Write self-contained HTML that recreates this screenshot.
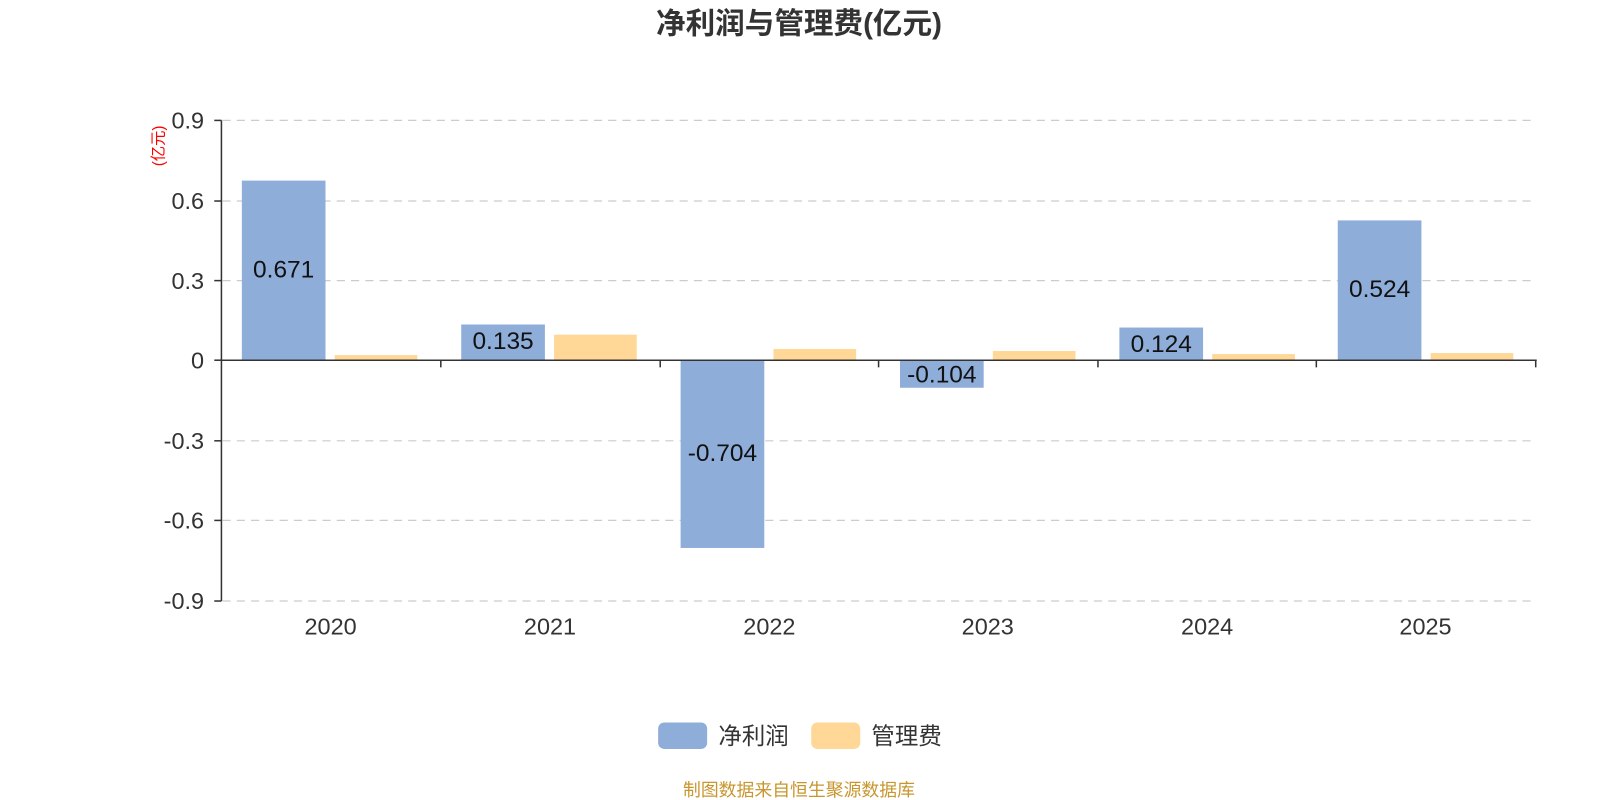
<!DOCTYPE html>
<html><head><meta charset="utf-8"><style>body{margin:0;background:#fff}svg{display:block}text{font-family:"Liberation Sans","Noto Sans CJK SC",sans-serif}</style></head><body>
<svg width="1600" height="800" viewBox="0 0 1568 784" xmlns="http://www.w3.org/2000/svg">
<text x="783" y="33" font-size="29" font-weight="bold" fill="#333" text-anchor="middle">净利润与管理费(亿元)</text>
<g stroke="#ccc" stroke-dasharray="8,6" stroke-width="1.2">
<line x1="218" y1="118" x2="1505" y2="118"/><line x1="218" y1="197" x2="1505" y2="197"/><line x1="218" y1="275" x2="1505" y2="275"/><line x1="218" y1="432" x2="1505" y2="432"/><line x1="218" y1="510" x2="1505" y2="510"/><line x1="218" y1="589" x2="1505" y2="589"/>
</g>
<g font-size="23" fill="#333" text-anchor="end">
<text x="200" y="126">0.9</text><text x="200" y="205">0.6</text><text x="200" y="283">0.3</text><text x="200" y="361">0</text><text x="200" y="440">-0.3</text><text x="200" y="518">-0.6</text><text x="200" y="597">-0.9</text>
</g>
<text transform="translate(160,143) rotate(-90)" font-size="15" fill="red" text-anchor="middle">(亿元)</text>
<g fill="#8eadd9">
<rect x="237" y="177" width="82" height="176"/><rect x="452" y="318" width="82" height="35"/><rect x="667" y="353" width="82" height="184"/><rect x="882" y="353" width="82" height="27"/><rect x="1097" y="321" width="82" height="32"/><rect x="1311" y="216" width="82" height="137"/>
</g>
<g fill="#ffd797">
<rect x="328" y="348" width="81" height="5"/><rect x="543" y="328" width="81" height="25"/><rect x="758" y="342" width="81" height="11"/><rect x="973" y="344" width="81" height="9"/><rect x="1188" y="347" width="81" height="6"/><rect x="1402" y="346" width="81" height="7"/>
</g>
<g font-size="24" fill="#111" text-anchor="middle">
<text x="278" y="272">0.671</text><text x="493" y="342">0.135</text><text x="708" y="452">-0.704</text><text x="923" y="375">-0.104</text><text x="1138" y="345">0.124</text><text x="1352" y="291">0.524</text>
</g>
<g stroke="#333" stroke-width="1.5">
<line x1="217" y1="118" x2="217" y2="589"/>
<line x1="210" y1="118" x2="217" y2="118"/><line x1="210" y1="197" x2="217" y2="197"/><line x1="210" y1="275" x2="217" y2="275"/><line x1="210" y1="353" x2="217" y2="353"/><line x1="210" y1="432" x2="217" y2="432"/><line x1="210" y1="510" x2="217" y2="510"/><line x1="210" y1="589" x2="217" y2="589"/>
<line x1="217" y1="353" x2="1506" y2="353"/>
<line x1="432" y1="353" x2="432" y2="360"/><line x1="647" y1="353" x2="647" y2="360"/><line x1="861" y1="353" x2="861" y2="360"/><line x1="1076" y1="353" x2="1076" y2="360"/><line x1="1290" y1="353" x2="1290" y2="360"/><line x1="1505" y1="353" x2="1505" y2="360"/>
</g>
<g font-size="23" fill="#333" text-anchor="middle">
<text x="324" y="622">2020</text><text x="539" y="622">2021</text><text x="754" y="622">2022</text><text x="968" y="622">2023</text><text x="1183" y="622">2024</text><text x="1397" y="622">2025</text>
</g>
<rect x="645" y="708" width="48" height="26" rx="6" fill="#8eadd9"/>
<text x="704" y="729" font-size="23" fill="#333">净利润</text>
<rect x="795" y="708" width="48" height="26" rx="6" fill="#ffd797"/>
<text x="854" y="729" font-size="23" fill="#333">管理费</text>
<text x="783" y="780" font-size="17.5" fill="#c8962e" text-anchor="middle">制图数据来自恒生聚源数据库</text>
</svg>
</body></html>
